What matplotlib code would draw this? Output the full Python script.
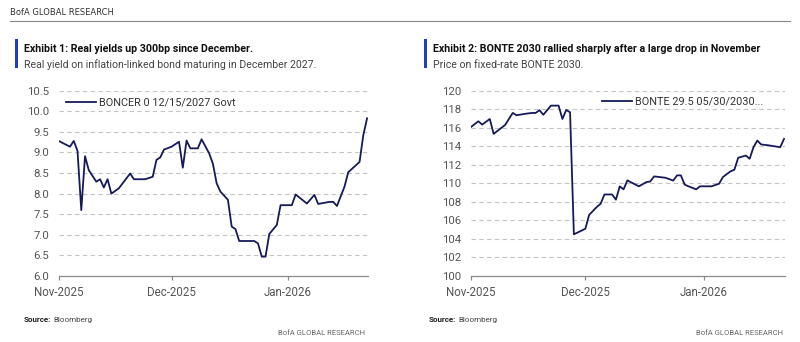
import matplotlib.pyplot as plt
import matplotlib.dates as mdates
import pandas as pd

plt.rcParams['font.family'] = ['Roboto', 'DejaVu Sans']

# Exhibit 1: BONCER 0 12/15/2027 real yield
boncer_dates = ["2025-11-01", "2025-11-04", "2025-11-05", "2025-11-06", "2025-11-07", "2025-11-08",
                "2025-11-09", "2025-11-11", "2025-11-12", "2025-11-13", "2025-11-14", "2025-11-15",
                "2025-11-17", "2025-11-19", "2025-11-20", "2025-11-21", "2025-11-24", "2025-11-26",
                "2025-11-27", "2025-11-28", "2025-11-29", "2025-12-01", "2025-12-03", "2025-12-04",
                "2025-12-05", "2025-12-06", "2025-12-08", "2025-12-09", "2025-12-11", "2025-12-12",
                "2025-12-13", "2025-12-14", "2025-12-16", "2025-12-17", "2025-12-18", "2025-12-19",
                "2025-12-23", "2025-12-24", "2025-12-25", "2025-12-26", "2025-12-27", "2025-12-29",
                "2025-12-30", "2026-01-02", "2026-01-03", "2026-01-06", "2026-01-08", "2026-01-09",
                "2026-01-12", "2026-01-13", "2026-01-14", "2026-01-16", "2026-01-17", "2026-01-20",
                "2026-01-21", "2026-01-22"]
boncer_yield = [9.28, 9.14, 9.28, 9.04, 7.60, 8.91,
                8.57, 8.29, 8.35, 8.15, 8.35, 8.00,
                8.13, 8.37, 8.49, 8.35, 8.35, 8.41,
                8.82, 8.88, 9.07, 9.14, 9.26, 8.63,
                9.29, 9.10, 9.10, 9.32, 8.98, 8.73,
                8.25, 8.05, 7.85, 7.20, 7.14, 6.85,
                6.85, 6.79, 6.47, 6.47, 7.02, 7.24,
                7.72, 7.72, 7.98, 7.76, 7.97, 7.75,
                7.80, 7.80, 7.70, 8.17, 8.52, 8.77,
                9.42, 9.83]

# Exhibit 2: BONTE 29.5 05/30/2030 price
bonte_dates = ["2025-11-01", "2025-11-03", "2025-11-04", "2025-11-06", "2025-11-07", "2025-11-10",
               "2025-11-12", "2025-11-13", "2025-11-15", "2025-11-17", "2025-11-18", "2025-11-19",
               "2025-11-20", "2025-11-22", "2025-11-24", "2025-11-25", "2025-11-26", "2025-11-27",
               "2025-11-28", "2025-12-01", "2025-12-02", "2025-12-04", "2025-12-05", "2025-12-06",
               "2025-12-08", "2025-12-09", "2025-12-10", "2025-12-11", "2025-12-12", "2025-12-15",
               "2025-12-17", "2025-12-18", "2025-12-19", "2025-12-22", "2025-12-24", "2025-12-25",
               "2025-12-26", "2025-12-27", "2025-12-28", "2025-12-30", "2025-12-31", "2026-01-03",
               "2026-01-05", "2026-01-06", "2026-01-08", "2026-01-09", "2026-01-10", "2026-01-12",
               "2026-01-13", "2026-01-14", "2026-01-15", "2026-01-16", "2026-01-18", "2026-01-21",
               "2026-01-22"]
bonte_price = [116.06, 116.70, 116.34, 116.95, 115.34, 116.30,
               117.60, 117.35, 117.49, 117.60, 117.60, 117.90,
               117.40, 118.39, 118.39, 116.95, 117.92, 117.67,
               104.50, 105.10, 106.60, 107.45, 107.80, 108.80,
               108.80, 108.24, 109.68, 109.35, 110.32, 109.68,
               110.14, 110.20, 110.75, 110.60, 110.30, 110.86,
               110.86, 109.86, 109.68, 109.35, 109.68, 109.68,
               109.96, 110.68, 111.30, 111.47, 112.76, 113.00,
               112.65, 113.90, 114.62, 114.20, 114.10, 113.90,
               114.80]

month_ticks = ["2025-11-01", "2025-12-01", "2026-01-01"]

navy = "#161a5a"
blue = "#1e3ec4"
grey_txt = "#555555"

W, H = 800, 342
fig = plt.figure(figsize=(W / 100, H / 100), dpi=100)


def px_axes(x0, x1, y_top, y_bot):
    return fig.add_axes([x0 / W, (H - y_bot) / H, (x1 - x0) / W, (y_bot - y_top) / H])


def style(ax, ylim, yticks, yfmt, label, leg_xy):
    ax.set_ylim(*ylim)
    ax.set_yticks(yticks)
    ax.set_yticklabels([yfmt.format(v) for v in yticks])
    ax.set_xlim(pd.Timestamp("2025-11-01"), pd.Timestamp("2026-01-22 06:00"))
    ax.set_xticks(pd.to_datetime(month_ticks))
    ax.xaxis.set_major_formatter(mdates.DateFormatter("%b-%Y"))
    for s in ["top", "right", "left"]:
        ax.spines[s].set_visible(False)
    ax.spines["bottom"].set_color("#8a8a8a")
    ax.spines["bottom"].set_linewidth(0.9)
    ax.tick_params(axis="y", length=0, pad=7, labelsize=8.2, labelcolor=grey_txt)
    ax.tick_params(axis="x", length=3, width=0.9, color="#8a8a8a", pad=4,
                   labelsize=8.3, labelcolor=grey_txt)
    for v in yticks[1:]:
        ax.axhline(v, color="#c4c4c4", lw=0.8, dashes=(4, 3), zorder=0)
    leg = ax.legend([label], loc="center left", bbox_to_anchor=leg_xy, frameon=False,
                    borderpad=0, borderaxespad=0, handlelength=2.8, handletextpad=0.25,
                    fontsize=7.8)
    for t in leg.get_texts():
        t.set_color("#333333")


# left chart
ax1 = px_axes(58.7, 368, 90.7, 276)
ax1.plot(pd.to_datetime(boncer_dates), boncer_yield, color=navy, lw=1.3)
style(ax1, (6.0, 10.5), [6.0 + 0.5 * i for i in range(10)], "{:.1f}",
      "BONCER 0 12/15/2027 Govt", (0.024, 0.935))

# right chart
ax2 = px_axes(470.7, 785, 90.7, 276)
ax2.plot(pd.to_datetime(bonte_dates), bonte_price, color=navy, lw=1.3)
style(ax2, (100, 120), list(range(100, 121, 2)), "{:d}",
      "BONTE 29.5 05/30/2030...", (0.418, 0.94))

# header
fig.text(10 / W, 1 - 12.5 / H, "BofA GLOBAL RESEARCH", fontsize=6, color="#333333",
         va="center", ha="left", family=["DejaVu Sans"])
fig.add_artist(plt.Line2D([10 / W, 790 / W], [1 - 21 / H, 1 - 21 / H], color="#888888", lw=0.8))

# titles
for x0, title, sub in [(15, "Exhibit 1: Real yields up 300bp since December.",
                        "Real yield on inflation-linked bond maturing in December 2027."),
                       (424, "Exhibit 2: BONTE 2030 rallied sharply after a large drop in November",
                        "Price on fixed-rate BONTE 2030.")]:
    fig.add_artist(plt.Rectangle((x0 / W, 1 - 68 / H), 3 / W, 29 / H, color=blue, lw=0))
    fig.text((x0 + 9) / W, 1 - 49 / H, title, fontsize=7.7, fontweight="bold", color="#111111",
             va="center", ha="left")
    fig.text((x0 + 9) / W, 1 - 65 / H, sub, fontsize=7.55, color="#444444",
             va="center", ha="left")

# footers
for x0, x1 in [(24, 365), (429, 783)]:
    fig.text(x0 / W, 1 - 320 / H, "Source:", fontsize=5.8, fontweight="bold", color="#222222",
             va="center", ha="left")
    fig.text((x0 + 29) / W, 1 - 320 / H, "Bloomberg", fontsize=5.8, color="#444444",
             va="center", ha="left")
    fig.text(x1 / W, 1 - 333 / H, "BofA GLOBAL RESEARCH", fontsize=5.5, color="#666666",
             va="center", ha="right")

fig.savefig("out.png", dpi=100)
